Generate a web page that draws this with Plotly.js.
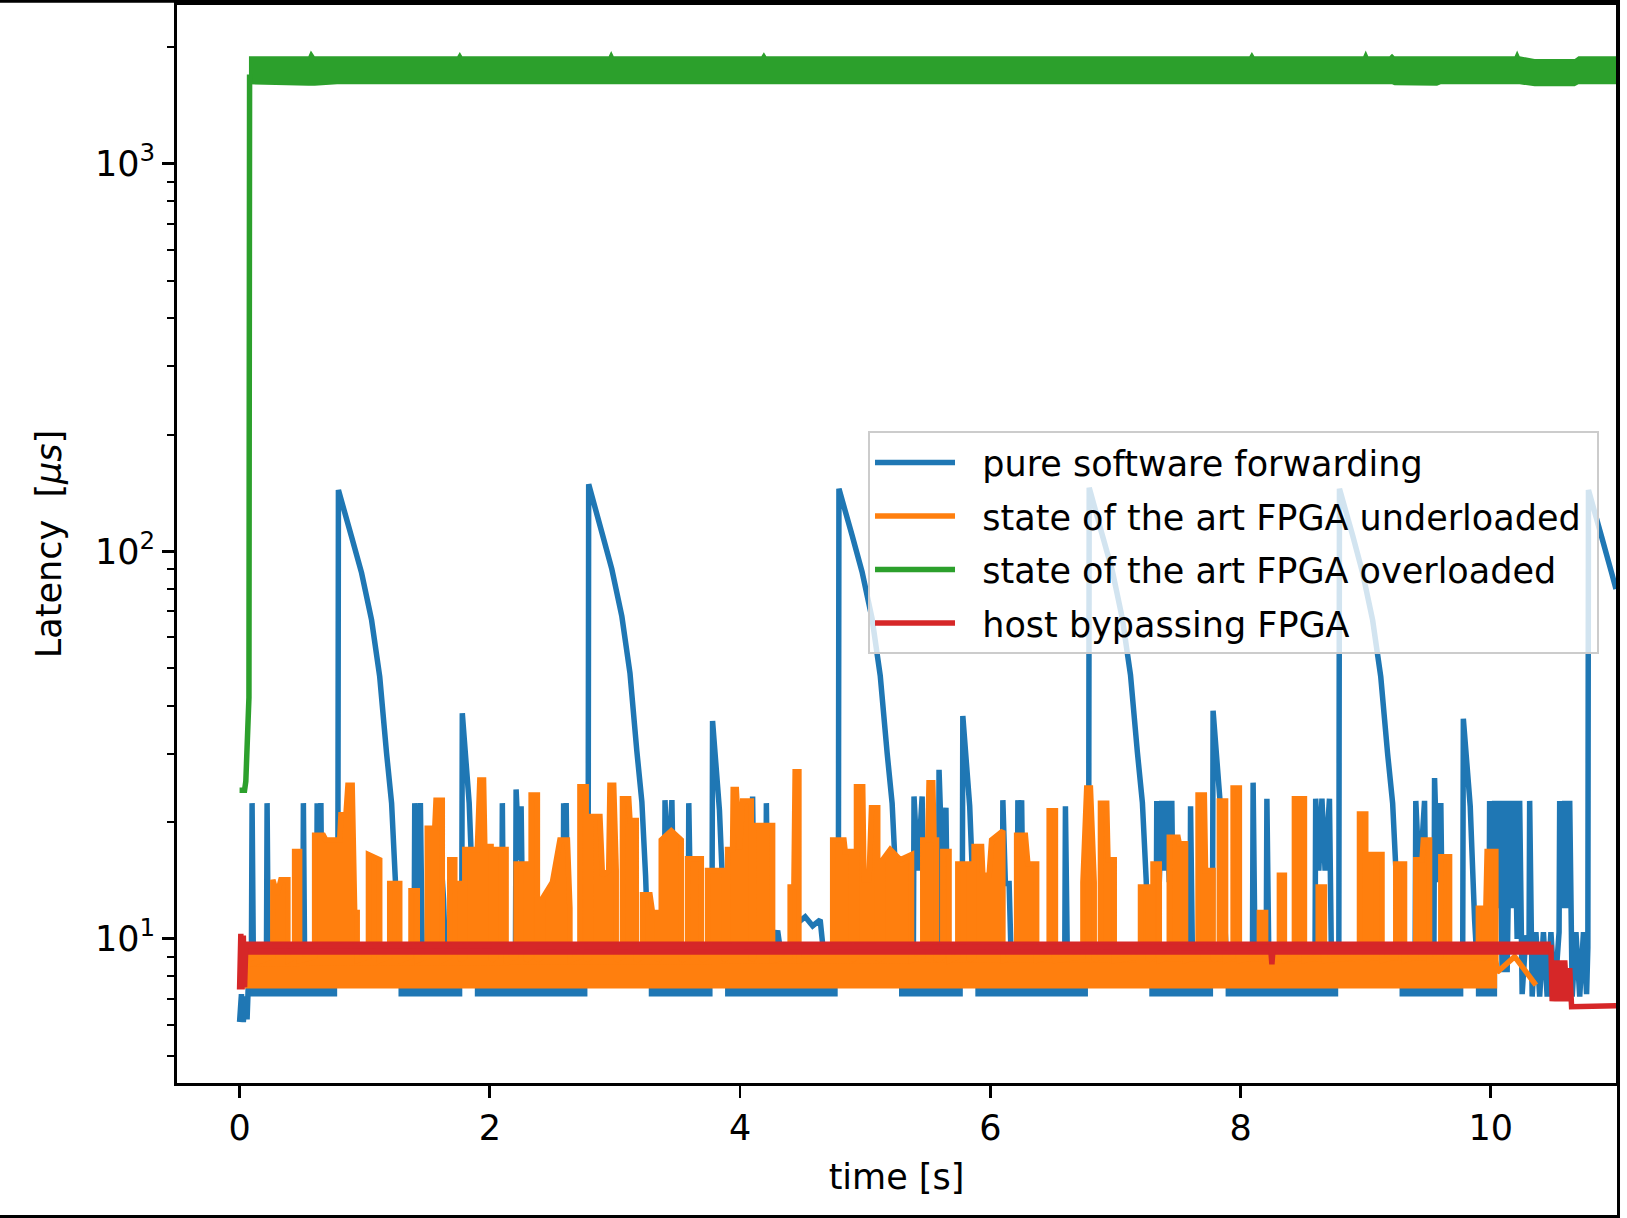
<!DOCTYPE html>
<html>
<head>
<meta charset="utf-8">
<script src="https://cdn.plot.ly/plotly-3.0.1.min.js"></script>
<style>
html,body{margin:0;padding:0;background:#fff;}
#chart{width:1627px;height:1218px;}
</style>
</head>
<body>
<div id="chart"></div>
<script>
// ---------------- data ----------------
const seriesNames = ["pure software forwarding", "state of the art FPGA underloaded",
                     "state of the art FPGA overloaded", "host bypassing FPGA"];
const seriesColors = ["#1f77b4", "#ff7f0e", "#2ca02c", "#d62728"];

const xTickVals = [0, 2, 4, 6, 8, 10];
const yTickVals = [10, 100, 1000];
const yTickText = ["10<sup>1</sup>", "10<sup>2</sup>", "10<sup>3</sup>"];
const yMinorTickVals = [5,6,7,8,9,20,30,40,50,60,70,80,90,200,300,400,500,600,700,800,900,2000];

// pure software forwarding: spikes and decays
const blueTime = [
 0.00,0.015,0.03,0.045,0.06,0.075,
 0.095,0.10,0.11,0.16,
 0.215,0.22,0.23,0.36,
 0.505,0.51,0.52,
 0.615,0.62,0.635,0.65,0.66,0.72,
 0.785,0.79,0.895,0.975,1.055,1.12,1.175,1.215,1.245,1.265,1.33,
 1.395,1.40,1.42,1.445,1.46,
 1.575,1.58,1.63,1.645,
 1.775,1.78,1.835,1.87,1.885,1.98,
 2.095,2.10,2.11,
 2.205,2.21,2.235,2.25,2.265,2.40,
 2.585,2.59,2.60,2.61,2.625,
 2.785,2.79,2.895,2.975,3.055,3.12,3.175,3.215,3.245,3.265,3.33,
 3.395,3.40,3.42,3.455,3.475,
 3.585,3.59,3.61,
 3.775,3.78,3.835,3.87,3.885,3.98,
 4.095,4.10,4.115,
 4.205,4.21,4.225,
 4.30,4.34,
 4.46,4.52,4.58,4.64,4.67,
 4.785,4.79,4.895,4.975,5.055,5.12,5.175,5.215,5.245,5.265,5.32,
 5.385,5.39,5.42,5.455,5.47,
 5.585,5.59,5.62,5.645,5.66,
 5.775,5.78,5.835,5.87,5.885,5.98,
 6.095,6.10,6.12,6.15,6.165,
 6.215,6.22,6.235,6.25,6.265,6.40,
 6.595,6.60,6.615,
 6.785,6.79,6.895,6.975,7.055,7.12,7.175,7.215,7.245,7.265,
 7.325,7.33,7.35,7.37,7.39,7.41,7.43,7.45,7.465,
 7.595,7.60,7.615,
 7.775,7.78,7.835,7.87,7.885,7.98,
 8.095,8.10,8.115,
 8.205,8.21,8.225,8.40,
 8.595,8.60,8.625,8.65,8.675,8.71,8.725,
 8.785,8.79,8.895,8.975,9.055,9.12,9.175,9.215,9.245,9.265,9.33,
 9.395,9.40,9.43,9.47,9.485,
 9.545,9.55,9.575,9.60,9.615,
 9.775,9.78,9.835,9.87,9.885,
 9.985,9.99,10.01,10.03,10.05,10.07,10.09,10.11,10.13,10.15,10.17,10.19,10.21,10.23,10.25,10.28,
 10.305,10.31,10.33,10.36,10.39,10.42,10.45,10.48,10.51,
 10.545,10.55,10.57,10.59,10.61,10.63,10.65,10.68,10.71,10.74,10.765,
 10.775,10.78,10.885,10.965,11.0
];
const blueLatency = [
 6.1,7.2,6.1,7.1,6.2,8.5,
 9.5,22.4,9.0,8.0,
 9.2,22.4,8.6,8.2,
 9.4,22.4,8.8,
 9.5,22.4,13.5,22.4,9.3,8.3,
 9.6,144,109,88,66.5,47.5,30.1,22.4,14.2,9.4,8.1,
 9.4,22.4,12,22.4,9.2,
 9.5,22.8,12.7,9.0,
 9.5,38.2,22.4,11.5,9.2,8.2,
 9.5,22.4,9.0,
 9.5,24.3,16,22,9.2,8.4,
 9.5,22.4,16,22.4,9.3,
 9.5,149,112,90,68,48.5,30.5,22.6,14.5,9.4,8.0,
 9.4,22.8,14,22.8,9.3,
 9.5,22.4,9.2,
 9.5,36.5,21.5,11.6,9.2,8.3,
 9.5,23.3,9.2,
 9.5,22.4,9.1,
 10.5,8.5,
 11.0,11.4,10.8,11.2,9.0,
 9.5,145,110,88.5,67,47.8,30.2,22.4,14.2,9.4,8.2,
 9.4,23.3,15,23.3,9.3,
 9.6,27.3,14,21.8,9.2,
 9.5,37.6,22,11.4,9.2,8.1,
 9.5,22.8,13.9,13.9,9.2,
 9.5,22.8,15,22.8,9.2,8.3,
 9.5,22,9.1,
 9.5,146,110,89,67,48,30.3,22.5,14.3,9.4,
 9.5,22.7,14,22.7,15,22.7,14,22.7,9.2,
 9.5,22,9.1,
 9.5,38.8,22.8,11.6,9.2,8.2,
 9.6,25.3,9.2,
 9.5,23,9.2,8.4,
 9.5,23,15,23,15,23,9.3,
 9.5,145,110,88,66.5,47.5,30,22.4,14.2,9.4,8.2,
 9.5,22.7,14,22.7,9.3,
 9.6,26,14,22.4,9.2,
 9.5,37,22,11.2,9.2,
 9.6,22.7,13,22.7,12,22.7,8.2,22.7,8.2,22.7,12,22.7,10,22.7,7.2,10.2,
 9.5,22.7,7.1,10.4,7.1,10.4,7.1,10.4,7.2,
 10.4,22.7,12,22.7,12,22.7,7.1,10.4,7.1,10.4,7.2,
 9.5,144,109,88,80
];
// dense noise band of the software path (segments separated by null)
const blueBandTime = [0.07,0.78,null,1.27,1.78,null,1.88,2.78,null,3.27,3.78,null,3.88,4.78,null,
                      5.27,5.78,null,5.88,6.78,null,7.27,7.78,null,7.88,8.78,null,9.27,9.78,null,9.88,10.05];
const blueBandLow  = [7.1,7.1,null,7.1,7.1,null,7.1,7.1,null,7.1,7.1,null,7.1,7.1,null,
                      7.1,7.1,null,7.1,7.1,null,7.1,7.1,null,7.1,7.1,null,7.1,7.1,null,7.1,7.1];
const blueBandHigh = [9.8,9.8,null,9.8,9.8,null,9.8,9.8,null,9.8,9.8,null,9.8,9.8,null,
                      9.8,9.8,null,9.8,9.8,null,9.8,9.8,null,9.8,9.8,null,9.8,9.8,null,9.8,9.8];

// state of the art FPGA underloaded: latency bursts (start, levels, end)
const orangeTime = [
 0.04,
 0.266,0.266,0.30,0.33,0.386,0.386,
 0.44,0.44,0.48,0.48,
 0.60,0.60,0.67,0.69,0.80,0.81,0.85,0.866,0.90,0.92,0.94,0.94,
 1.03,1.03,1.12,1.12,
 1.20,1.20,1.28,1.28,
 1.37,1.37,1.42,1.42,
 1.50,1.50,1.56,1.57,1.62,1.62,
 1.68,1.68,1.72,1.72,1.76,1.76,
 1.80,1.80,1.90,1.92,1.95,1.96,2.01,2.01,
 2.05,2.05,2.13,2.13,
 2.21,2.21,2.29,2.29,
 2.33,2.33,2.38,2.38,
 2.42,2.42,2.50,2.56,2.62,2.64,2.64,
 2.72,2.72,2.77,2.77,
 2.81,2.81,2.88,2.90,2.95,2.96,2.99,3.01,3.01,
 3.06,3.06,3.11,3.12,3.17,3.17,
 3.22,3.22,3.28,3.30,3.34,3.34,
 3.37,3.37,3.45,3.53,3.53,
 3.58,3.58,3.69,3.69,
 3.74,3.74,3.87,3.87,
 3.90,3.90,3.94,3.945,3.97,3.995,4.02,4.09,4.09,
 4.11,4.11,4.26,4.26,
 4.40,4.40,4.43,4.44,4.47,4.47,
 4.74,4.74,4.83,4.84,4.89,4.89,
 4.93,4.93,4.98,4.99,5.03,5.05,5.10,5.10,
 5.14,5.14,5.20,5.28,5.37,5.37,
 5.46,5.46,5.50,5.51,5.54,5.55,5.57,5.57,
 5.62,5.62,5.67,5.67,
 5.74,5.74,5.83,5.83,
 5.87,5.87,5.93,5.94,5.99,6.01,6.10,6.10,
 6.21,6.21,6.28,6.30,6.37,6.37,
 6.47,6.47,6.52,6.52,
 6.74,6.74,6.77,6.80,6.83,6.83,
 6.88,6.88,6.93,6.94,6.99,6.99,
 7.20,7.20,7.26,7.26,
 7.30,7.30,7.35,7.35,
 7.43,7.43,7.50,7.51,7.56,7.56,
 7.66,7.66,7.71,7.72,7.78,7.78,
 7.83,7.83,7.88,7.88,
 7.94,7.94,7.99,7.99,
 8.15,8.15,8.20,8.20,
 8.31,8.31,8.35,8.35,
 8.43,8.43,8.51,8.51,
 8.62,8.62,8.67,8.67,
 8.95,8.95,9.00,9.00,
 9.04,9.04,9.13,9.13,
 9.24,9.24,9.31,9.31,
 9.40,9.40,9.45,9.46,9.51,9.51,
 9.60,9.60,9.67,9.67,
 9.90,9.90,9.96,9.97,10.04,10.04,
 10.05,10.19,10.36
];
const orangeLatency = [
 8.5,
 9.0,14.2,13,14.2,14.2,8.8,
 9.0,16.8,16.8,8.8,
 9.0,18.5,18.5,18,18,20.9,20.9,24.9,24.9,11.7,11.7,8.8,
 9.0,16.5,16,8.8,
 9.0,13.9,13.9,8.8,
 9.0,13.3,13.3,8.8,
 9.0,19.3,19.3,22.8,22.8,8.8,
 9.0,16,16,13.9,13.9,8.8,
 9.0,17,17,25.7,25.7,17.3,17.3,8.8,
 9.0,17,17,8.8,
 9.0,15.6,15.6,8.8,
 9.0,23.5,23.5,8.8,
 9.0,12.7,14,18,18,12,8.8,
 9.0,24.7,24.7,8.8,
 9.0,20.7,20.7,14.6,15,24.9,24.9,15,8.8,
 9.0,23,23,20.2,20.2,8.8,
 9.0,13,13,11.7,11.7,8.8,
 9.0,18,19,18,8.8,
 9.0,16.1,16.1,8.8,
 9.0,15,15,8.8,
 9.0,17,17,24.3,24.3,17,22.7,22.7,8.8,
 9.0,19.6,19.6,8.8,
 9.0,13.6,13.6,27,27,8.8,
 9.0,18,18,16.8,16.8,8.8,
 9.0,24.7,24.7,14.2,14.2,21.8,21.8,8.8,
 9.0,16,17,16,16.5,8.8,
 9.0,18,18,25.3,25.3,18,18,8.8,
 9.0,16.8,16.8,8.8,
 9.0,15.6,15.6,8.8,
 9.0,17.3,17.3,14.6,14.6,18,19,8.8,
 9.0,18.5,18.5,15.6,15.6,8.8,
 9.0,21.4,21.4,8.8,
 9.0,14,24.5,24.5,14,8.8,
 9.0,22.4,22.4,16,16,8.8,
 9.0,13.6,13.6,8.8,
 9.0,15.6,15.6,8.8,
 9.0,18.3,18.3,17.6,17.6,8.8,
 9.0,23.5,23.5,15,15,8.8,
 9.0,22.7,22.7,8.8,
 9.0,24.5,24.5,8.8,
 9.0,11.7,11.7,8.8,
 9.0,14.6,14.6,8.8,
 9.0,23,23,8.8,
 9.0,13.6,13.6,8.8,
 9.0,21,21,8.8,
 9.0,16.5,16.5,8.8,
 9.0,15.6,15.6,8.8,
 9.0,16,16,18,18,8.8,
 9.0,16.3,16.3,8.8,
 9.0,12,12,16.8,16.8,8.8,
 8.2,9.0,7.6
];
const orangeBandTime = [0.04, 10.05];
const orangeBandLow  = [7.45, 7.45];
const orangeBandHigh = [9.2, 9.2];
const orangeBurstEnd = 10.04;   // last time of the burst activity

// state of the art FPGA overloaded
const greenTime    = [0.00, 0.04, 0.05, 0.075, 0.08];
const greenLatency = [24.2, 24.2, 25.5, 42, 1700];
const greenBandTime = [0.075,0.55,0.57,0.60,0.78,1.74,1.76,1.78,2.95,2.97,2.99,4.17,4.19,4.21,8.07,8.09,8.11,
                       8.98,9.00,9.02,9.19,9.21,9.23,9.57,9.60,10.19,10.21,10.23,10.35,10.67,10.70,11.0];
const greenBandHigh = [1895,1895,1960,1895,1895,1895,1945,1895,1895,1955,1895,1895,1940,1895,1895,1945,1895,
                       1895,1960,1895,1895,1925,1895,1895,1895,1895,1960,1895,1865,1865,1895,1895];
const greenBandLow  = [1605,1590,1590,1590,1605,1605,1605,1605,1605,1605,1605,1605,1605,1605,1605,1605,1605,
                       1605,1605,1605,1605,1605,1595,1590,1605,1605,1605,1605,1585,1585,1605,1605];

// host bypassing FPGA
const redTime    = [0.00,0.01,0.02,0.03,0.04,0.05, 8.24,8.25,8.26,
                    10.48,10.49,10.51,10.53,10.55,10.57,10.59,10.61,10.63,10.645,11.0];
const redLatency = [7.4,10.3,7.4,10.2,7.5,9.6, 9.5,8.6,9.5,
                    9.5,6.9,8.8,6.9,8.8,6.9,8.8,6.9,8.4,6.68,6.72];
const redBandTime = [0.05, 10.48];
const redBandLow  = [9.1, 9.1];
const redBandHigh = [9.85, 9.85];

// ---------------- chart ----------------
const FONT = "DejaVu Sans";
const LW = 5.5;

function bandPolygon(t, lo, hi) {
  const xs = [], ys = [];
  let seg = [];
  const flush = () => {
    if (!seg.length) return;
    if (xs.length) { xs.push(null); ys.push(null); }
    seg.forEach(i => { xs.push(t[i]); ys.push(hi[i]); });
    for (let k = seg.length - 1; k >= 0; k--) { xs.push(t[seg[k]]); ys.push(lo[seg[k]]); }
    seg = [];
  };
  for (let i = 0; i < t.length; i++) { if (t[i] === null) flush(); else seg.push(i); }
  flush();
  return {xs, ys};
}

function bandTrace(t, lo, hi, color, group) {
  const p = bandPolygon(t, lo, hi);
  return {x: p.xs, y: p.ys, type: "scatter", mode: "lines", fill: "toself",
          fillcolor: color, line: {width: 0, color: color}, connectgaps: false,
          showlegend: false, legendgroup: group, hoverinfo: "skip"};
}
function lineTrace(t, v, color, name, group) {
  return {x: t, y: v, type: "scatter", mode: "lines", name: "\u00a0\u00a0" + name + "\u00a0", legendgroup: group,
          line: {color: color, width: LW, simplify: false}};
}
// bursts of the underloaded FPGA path: area under each burst is covered by the dense samples
const orangeBurstT = [], orangeBurstV = [];
orangeTime.forEach((t, i) => { if (t <= orangeBurstEnd) { orangeBurstT.push(t); orangeBurstV.push(orangeLatency[i]); } });

const traces = [
  bandTrace(blueBandTime, blueBandLow, blueBandHigh, seriesColors[0], "g0"),
  lineTrace(blueTime, blueLatency, seriesColors[0], seriesNames[0], "g0"),
  bandTrace(orangeBandTime, orangeBandLow, orangeBandHigh, seriesColors[1], "g1"),
  {x: orangeBurstT, y: orangeBurstV, type: "scatter", mode: "lines", fill: "toself",
   fillcolor: seriesColors[1], line: {width: 0, color: seriesColors[1], simplify: false},
   showlegend: false, legendgroup: "g1", hoverinfo: "skip"},
  lineTrace(orangeTime, orangeLatency, seriesColors[1], seriesNames[1], "g1"),
  bandTrace(greenBandTime, greenBandLow, greenBandHigh, seriesColors[2], "g2"),
  lineTrace(greenTime, greenLatency, seriesColors[2], seriesNames[2], "g2"),
  bandTrace(redBandTime, redBandLow, redBandHigh, seriesColors[3], "g3"),
  lineTrace(redTime, redLatency, seriesColors[3], seriesNames[3], "g3")
];

const axisCommon = {
  showline: true, mirror: true, linecolor: "#000", linewidth: 2.8,
  ticks: "outside", ticklen: 12, tickwidth: 2.8, tickcolor: "#000",
  showgrid: false, zeroline: false,
  tickfont: {family: FONT, size: 35, color: "#000"}
};

const layout = {
  width: 1627, height: 1218,
  margin: {l: 177, r: 11, t: 5, b: 135, pad: 0},
  paper_bgcolor: "#fff", plot_bgcolor: "#fff",
  font: {family: FONT, size: 35, color: "#000"},
  showlegend: true,
  xaxis: Object.assign({}, axisCommon, {
    range: [-0.5, 11.0], tickmode: "array", tickvals: xTickVals,
    title: {text: "time [s]", font: {family: FONT, size: 35, color: "#000"}, standoff: 18}
  }),
  yaxis: Object.assign({}, axisCommon, {
    type: "log", range: [0.628, 3.410],
    tickmode: "array", tickvals: yTickVals, ticktext: yTickText,
    minor: {tickmode: "array", tickvals: yMinorTickVals, ticks: "outside", ticklen: 7,
            tickwidth: 2, tickcolor: "#000", showgrid: false},
    title: {text: "Latency  [<i>μs</i>]", font: {family: FONT, size: 35, color: "#000"}, standoff: 23}
  }),
  legend: {
    x: 0.4802, y: 0.6045, xanchor: "left", yanchor: "top",
    bgcolor: "rgba(255,255,255,0.8)", bordercolor: "#cccccc", borderwidth: 2,
    font: {family: FONT, size: 35, color: "#000"},
    itemwidth: 80, traceorder: "grouped", tracegroupgap: 5
  },
  shapes: [{
    type: "rect", xref: "paper", yref: "paper",
    x0: -0.13, x1: 1.00174, y0: -0.12384, y1: 1.00343,
    line: {color: "#000", width: 3}, fillcolor: "rgba(0,0,0,0)", layer: "above"
  }]
};

Plotly.newPlot("chart", traces, layout, {staticPlot: true, displayModeBar: false});
</script>
</body>
</html>
